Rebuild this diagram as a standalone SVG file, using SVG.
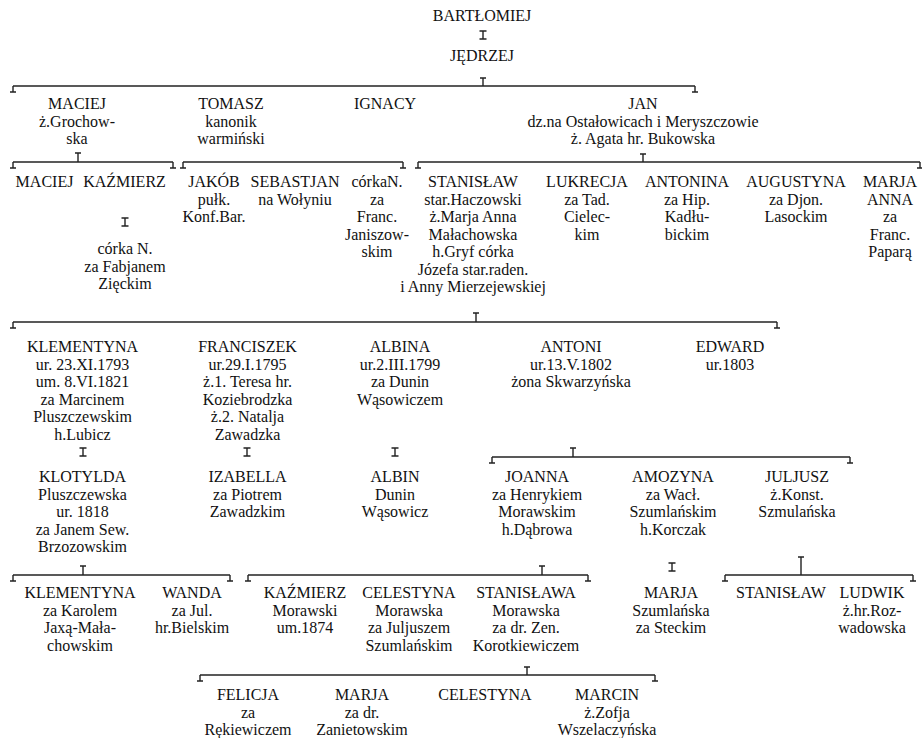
<svg xmlns="http://www.w3.org/2000/svg" width="922" height="738" viewBox="0 0 922 738">
  <style>
    text { font-family: Liberation Serif; font-size: 16px; fill: #111; text-anchor: middle; }
    .ln { fill: none; stroke: #222; stroke-width: 1.4; }
  </style>
  <defs>
    <path id="ibeam" d="M-3.5,0 h7 M0,0 v8 M-3.5,8 h7" class="ln"/>
    <path id="foot" d="M0,0 v6 M-3,6 h6" class="ln"/>
  </defs>
  <rect width="922" height="738" fill="#fff"/>
  <g id="connectors">
    <use href="#ibeam" x="483" y="31"/>
    <use href="#ibeam" x="125" y="218"/>
    <use href="#ibeam" x="83" y="448"/>
    <use href="#ibeam" x="247" y="448"/>
    <use href="#ibeam" x="395" y="448"/>
    <use href="#ibeam" x="672" y="563"/>
    <path class="ln" d="M480,78 h6 M483,78 V86"/>
    <path class="ln" d="M75,153 h6 M78,153 V162"/>
    <path class="ln" d="M640,154 h6 M643,154 V162"/>
    <path class="ln" d="M473,313 h6 M476,313 V322"/>
    <path class="ln" d="M570,448 h6 M573,448 V457"/>
    <path class="ln" d="M80,566 h6 M83,566 V575"/>
    <path class="ln" d="M539,566 h6 M542,566 V575"/>
    <path class="ln" d="M798,557 h6 M801,557 V575"/>
    <path class="ln" d="M524,667 h6 M527,667 V675"/>
    <path class="ln" d="M13,86 H695"/>
    <use href="#foot" x="13" y="86"/><use href="#foot" x="695" y="86"/>
    <path class="ln" d="M13,162 H173"/>
    <use href="#foot" x="13" y="162"/><use href="#foot" x="173" y="162"/>
    <path class="ln" d="M183,162 H403"/>
    <use href="#foot" x="183" y="162"/><use href="#foot" x="403" y="162"/>
    <path class="ln" d="M418,162 H920"/>
    <use href="#foot" x="418" y="162"/><use href="#foot" x="920" y="162"/>
    <path class="ln" d="M13,322 H777"/>
    <use href="#foot" x="13" y="322"/><use href="#foot" x="777" y="322"/>
    <path class="ln" d="M492,457 H850"/>
    <use href="#foot" x="492" y="457"/><use href="#foot" x="850" y="457"/>
    <path class="ln" d="M13,575 H230"/>
    <use href="#foot" x="13" y="575"/><use href="#foot" x="230" y="575"/>
    <path class="ln" d="M248,575 H588"/>
    <use href="#foot" x="248" y="575"/><use href="#foot" x="588" y="575"/>
    <path class="ln" d="M725,575 H913"/>
    <use href="#foot" x="725" y="575"/><use href="#foot" x="913" y="575"/>
    <path class="ln" d="M200,675 H655"/>
    <use href="#foot" x="200" y="675"/><use href="#foot" x="655" y="675"/>
  </g>

  <g id="bartlomiej"><text style="font-family:'Liberation Serif', serif" x="482" y="21">BARTŁOMIEJ</text></g>
  <g id="jedrzej"><text style="font-family:'Liberation Serif', serif" x="482" y="60.5">JĘDRZEJ</text></g>

  <g id="maciej">
    <text style="font-family:'Liberation Serif', serif" x="77" y="109">MACIEJ</text>
    <text style="font-family:'Liberation Serif', serif" x="77" y="126.5">ż.Grochow-</text>
    <text style="font-family:'Liberation Serif', serif" x="77" y="144">ska</text>
  </g>
  <g id="tomasz">
    <text style="font-family:'Liberation Serif', serif" x="231" y="109">TOMASZ</text>
    <text style="font-family:'Liberation Serif', serif" x="231" y="126.5">kanonik</text>
    <text style="font-family:'Liberation Serif', serif" x="231" y="144">warmiński</text>
  </g>
  <g id="ignacy"><text style="font-family:'Liberation Serif', serif" x="385" y="109">IGNACY</text></g>
  <g id="jan">
    <text style="font-family:'Liberation Serif', serif" x="643" y="109">JAN</text>
    <text style="font-family:'Liberation Serif', serif" x="643" y="126.5">dz.na Ostałowicach i Meryszczowie</text>
    <text style="font-family:'Liberation Serif', serif" x="643" y="144">ż. Agata hr. Bukowska</text>
  </g>

  <g id="maciej2"><text style="font-family:'Liberation Serif', serif" x="44.5" y="187">MACIEJ</text></g>
  <g id="kazmierz"><text style="font-family:'Liberation Serif', serif" x="124.5" y="187">KAŹMIERZ</text></g>
  <g id="corka-n">
    <text style="font-family:'Liberation Serif', serif" x="125" y="254">córka N.</text>
    <text style="font-family:'Liberation Serif', serif" x="125" y="271.5">za Fabjanem</text>
    <text style="font-family:'Liberation Serif', serif" x="125" y="289">Zięckim</text>
  </g>
  <g id="jakob">
    <text style="font-family:'Liberation Serif', serif" x="214" y="187">JAKÓB</text>
    <text style="font-family:'Liberation Serif', serif" x="214" y="204.5">pułk.</text>
    <text style="font-family:'Liberation Serif', serif" x="214" y="222">Konf.Bar.</text>
  </g>
  <g id="sebastjan">
    <text style="font-family:'Liberation Serif', serif" x="295" y="187">SEBASTJAN</text>
    <text style="font-family:'Liberation Serif', serif" x="295" y="204.5">na Wołyniu</text>
  </g>
  <g id="corka-n2">
    <text style="font-family:'Liberation Serif', serif" x="377" y="187">córkaN.</text>
    <text style="font-family:'Liberation Serif', serif" x="377" y="204.5">za</text>
    <text style="font-family:'Liberation Serif', serif" x="377" y="222">Franc.</text>
    <text style="font-family:'Liberation Serif', serif" x="377" y="239.5">Janiszow-</text>
    <text style="font-family:'Liberation Serif', serif" x="377" y="257">skim</text>
  </g>
  <g id="stanislaw">
    <text style="font-family:'Liberation Serif', serif" x="473" y="187">STANISŁAW</text>
    <text style="font-family:'Liberation Serif', serif" x="473" y="204.5">star.Haczowski</text>
    <text style="font-family:'Liberation Serif', serif" x="473" y="222">ż.Marja Anna</text>
    <text style="font-family:'Liberation Serif', serif" x="473" y="239.5">Małachowska</text>
    <text style="font-family:'Liberation Serif', serif" x="473" y="257">h.Gryf córka</text>
    <text style="font-family:'Liberation Serif', serif" x="473" y="274.5">Józefa star.raden.</text>
    <text style="font-family:'Liberation Serif', serif" x="473" y="292">i Anny Mierzejewskiej</text>
  </g>
  <g id="lukrecja">
    <text style="font-family:'Liberation Serif', serif" x="587" y="187">LUKRECJA</text>
    <text style="font-family:'Liberation Serif', serif" x="587" y="204.5">za Tad.</text>
    <text style="font-family:'Liberation Serif', serif" x="587" y="222">Cielec-</text>
    <text style="font-family:'Liberation Serif', serif" x="587" y="239.5">kim</text>
  </g>
  <g id="antonina">
    <text style="font-family:'Liberation Serif', serif" x="687" y="187">ANTONINA</text>
    <text style="font-family:'Liberation Serif', serif" x="687" y="204.5">za Hip.</text>
    <text style="font-family:'Liberation Serif', serif" x="687" y="222">Kadłu-</text>
    <text style="font-family:'Liberation Serif', serif" x="687" y="239.5">bickim</text>
  </g>
  <g id="augustyna">
    <text style="font-family:'Liberation Serif', serif" x="796" y="187">AUGUSTYNA</text>
    <text style="font-family:'Liberation Serif', serif" x="796" y="204.5">za Djon.</text>
    <text style="font-family:'Liberation Serif', serif" x="796" y="222">Lasockim</text>
  </g>
  <g id="marja-anna">
    <text style="font-family:'Liberation Serif', serif" x="890" y="187">MARJA</text>
    <text style="font-family:'Liberation Serif', serif" x="890" y="204.5">ANNA</text>
    <text style="font-family:'Liberation Serif', serif" x="890" y="222">za</text>
    <text style="font-family:'Liberation Serif', serif" x="890" y="239.5">Franc.</text>
    <text style="font-family:'Liberation Serif', serif" x="890" y="257">Paparą</text>
  </g>

  <g id="klementyna">
    <text style="font-family:'Liberation Serif', serif" x="82.5" y="352">KLEMENTYNA</text>
    <text style="font-family:'Liberation Serif', serif" x="82.5" y="369.6">ur. 23.XI.1793</text>
    <text style="font-family:'Liberation Serif', serif" x="82.5" y="387.2">um. 8.VI.1821</text>
    <text style="font-family:'Liberation Serif', serif" x="82.5" y="404.8">za Marcinem</text>
    <text style="font-family:'Liberation Serif', serif" x="82.5" y="422.4">Pluszczewskim</text>
    <text style="font-family:'Liberation Serif', serif" x="82.5" y="440">h.Lubicz</text>
  </g>
  <g id="franciszek">
    <text style="font-family:'Liberation Serif', serif" x="247.5" y="352">FRANCISZEK</text>
    <text style="font-family:'Liberation Serif', serif" x="247.5" y="369.6">ur.29.I.1795</text>
    <text style="font-family:'Liberation Serif', serif" x="247.5" y="387.2">ż.1. Teresa hr.</text>
    <text style="font-family:'Liberation Serif', serif" x="247.5" y="404.8">Koziebrodzka</text>
    <text style="font-family:'Liberation Serif', serif" x="247.5" y="422.4">ż.2. Natalja</text>
    <text style="font-family:'Liberation Serif', serif" x="247.5" y="440">Zawadzka</text>
  </g>
  <g id="albina">
    <text style="font-family:'Liberation Serif', serif" x="400" y="352">ALBINA</text>
    <text style="font-family:'Liberation Serif', serif" x="400" y="369.6">ur.2.III.1799</text>
    <text style="font-family:'Liberation Serif', serif" x="400" y="387.2">za Dunin</text>
    <text style="font-family:'Liberation Serif', serif" x="400" y="404.8">Wąsowiczem</text>
  </g>
  <g id="antoni">
    <text style="font-family:'Liberation Serif', serif" x="571" y="352">ANTONI</text>
    <text style="font-family:'Liberation Serif', serif" x="571" y="369.6">ur.13.V.1802</text>
    <text style="font-family:'Liberation Serif', serif" x="571" y="387.2">żona Skwarzyńska</text>
  </g>
  <g id="edward">
    <text style="font-family:'Liberation Serif', serif" x="730" y="352">EDWARD</text>
    <text style="font-family:'Liberation Serif', serif" x="730" y="369.6">ur.1803</text>
  </g>

  <g id="klotylda">
    <text style="font-family:'Liberation Serif', serif" x="82.5" y="482">KLOTYLDA</text>
    <text style="font-family:'Liberation Serif', serif" x="82.5" y="499.5">Pluszczewska</text>
    <text style="font-family:'Liberation Serif', serif" x="82.5" y="517">ur. 1818</text>
    <text style="font-family:'Liberation Serif', serif" x="82.5" y="534.5">za Janem Sew.</text>
    <text style="font-family:'Liberation Serif', serif" x="82.5" y="552">Brzozowskim</text>
  </g>
  <g id="izabella">
    <text style="font-family:'Liberation Serif', serif" x="247.5" y="482">IZABELLA</text>
    <text style="font-family:'Liberation Serif', serif" x="247.5" y="499.5">za Piotrem</text>
    <text style="font-family:'Liberation Serif', serif" x="247.5" y="517">Zawadzkim</text>
  </g>
  <g id="albin">
    <text style="font-family:'Liberation Serif', serif" x="395" y="482">ALBIN</text>
    <text style="font-family:'Liberation Serif', serif" x="395" y="499.5">Dunin</text>
    <text style="font-family:'Liberation Serif', serif" x="395" y="517">Wąsowicz</text>
  </g>
  <g id="joanna">
    <text style="font-family:'Liberation Serif', serif" x="537" y="482">JOANNA</text>
    <text style="font-family:'Liberation Serif', serif" x="537" y="499.5">za Henrykiem</text>
    <text style="font-family:'Liberation Serif', serif" x="537" y="517">Morawskim</text>
    <text style="font-family:'Liberation Serif', serif" x="537" y="534.5">h.Dąbrowa</text>
  </g>
  <g id="amozyna">
    <text style="font-family:'Liberation Serif', serif" x="673" y="482">AMOZYNA</text>
    <text style="font-family:'Liberation Serif', serif" x="673" y="499.5">za Wacł.</text>
    <text style="font-family:'Liberation Serif', serif" x="673" y="517">Szumlańskim</text>
    <text style="font-family:'Liberation Serif', serif" x="673" y="534.5">h.Korczak</text>
  </g>
  <g id="juljusz">
    <text style="font-family:'Liberation Serif', serif" x="797" y="482">JULJUSZ</text>
    <text style="font-family:'Liberation Serif', serif" x="797" y="499.5">ż.Konst.</text>
    <text style="font-family:'Liberation Serif', serif" x="797" y="517">Szmulańska</text>
  </g>

  <g id="klementyna2">
    <text style="font-family:'Liberation Serif', serif" x="80" y="598">KLEMENTYNA</text>
    <text style="font-family:'Liberation Serif', serif" x="80" y="615.5">za Karolem</text>
    <text style="font-family:'Liberation Serif', serif" x="80" y="633">Jaxą-Mała-</text>
    <text style="font-family:'Liberation Serif', serif" x="80" y="650.5">chowskim</text>
  </g>
  <g id="wanda">
    <text style="font-family:'Liberation Serif', serif" x="192" y="598">WANDA</text>
    <text style="font-family:'Liberation Serif', serif" x="192" y="615.5">za Jul.</text>
    <text style="font-family:'Liberation Serif', serif" x="192" y="633">hr.Bielskim</text>
  </g>
  <g id="kazmierz2">
    <text style="font-family:'Liberation Serif', serif" x="305" y="598">KAŹMIERZ</text>
    <text style="font-family:'Liberation Serif', serif" x="305" y="615.5">Morawski</text>
    <text style="font-family:'Liberation Serif', serif" x="305" y="633">um.1874</text>
  </g>
  <g id="celestyna">
    <text style="font-family:'Liberation Serif', serif" x="409" y="598">CELESTYNA</text>
    <text style="font-family:'Liberation Serif', serif" x="409" y="615.5">Morawska</text>
    <text style="font-family:'Liberation Serif', serif" x="409" y="633">za Juljuszem</text>
    <text style="font-family:'Liberation Serif', serif" x="409" y="650.5">Szumlańskim</text>
  </g>
  <g id="stanislawa">
    <text style="font-family:'Liberation Serif', serif" x="526" y="598">STANISŁAWA</text>
    <text style="font-family:'Liberation Serif', serif" x="526" y="615.5">Morawska</text>
    <text style="font-family:'Liberation Serif', serif" x="526" y="633">za dr. Zen.</text>
    <text style="font-family:'Liberation Serif', serif" x="526" y="650.5">Korotkiewiczem</text>
  </g>
  <g id="marja">
    <text style="font-family:'Liberation Serif', serif" x="671" y="598">MARJA</text>
    <text style="font-family:'Liberation Serif', serif" x="671" y="615.5">Szumlańska</text>
    <text style="font-family:'Liberation Serif', serif" x="671" y="633">za Steckim</text>
  </g>
  <g id="stanislaw2"><text style="font-family:'Liberation Serif', serif" x="781" y="598">STANISŁAW</text></g>
  <g id="ludwik">
    <text style="font-family:'Liberation Serif', serif" x="872" y="598">LUDWIK</text>
    <text style="font-family:'Liberation Serif', serif" x="872" y="615.5">ż.hr.Roz-</text>
    <text style="font-family:'Liberation Serif', serif" x="872" y="633">wadowska</text>
  </g>

  <g id="felicja">
    <text style="font-family:'Liberation Serif', serif" x="248" y="700">FELICJA</text>
    <text style="font-family:'Liberation Serif', serif" x="248" y="717.5">za</text>
    <text style="font-family:'Liberation Serif', serif" x="248" y="735">Rękiewiczem</text>
  </g>
  <g id="marja2">
    <text style="font-family:'Liberation Serif', serif" x="362" y="700">MARJA</text>
    <text style="font-family:'Liberation Serif', serif" x="362" y="717.5">za dr.</text>
    <text style="font-family:'Liberation Serif', serif" x="362" y="735">Zanietowskim</text>
  </g>
  <g id="celestyna2"><text style="font-family:'Liberation Serif', serif" x="485" y="700">CELESTYNA</text></g>
  <g id="marcin">
    <text style="font-family:'Liberation Serif', serif" x="607" y="700">MARCIN</text>
    <text style="font-family:'Liberation Serif', serif" x="607" y="717.5">ż.Zofja</text>
    <text style="font-family:'Liberation Serif', serif" x="607" y="735">Wszelaczyńska</text>
  </g>
</svg>
